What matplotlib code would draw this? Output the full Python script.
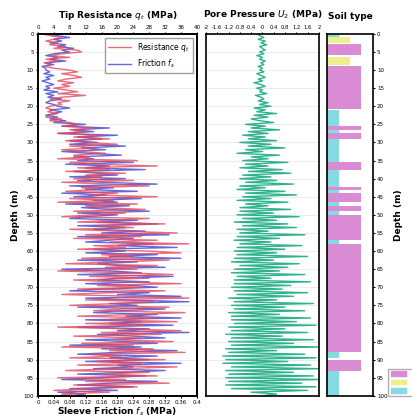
import matplotlib.pyplot as plt
import matplotlib.patches as mpatches
import numpy as np

# depth grid (m), 0.5 m step
depth = np.arange(0, 100.5, 0.5)

# tip resistance qt (MPa)
qt = [1, 3, 6, 4, 2, 5, 3, 7, 4, 10,
      11, 6, 3, 8, 2, 5, 1.5, 3, 2, 4,
      8, 10, 6, 9, 11, 7, 5, 9, 6, 8,
      4, 7, 10, 5, 12, 6, 3, 8, 5, 6,
      3, 2, 4, 2.5, 5, 3, 2, 6, 3, 8,
      10, 6, 14, 8, 12, 5, 16, 9, 18, 7,
      12, 20, 8, 15, 6, 11, 17, 9, 13, 5,
      25, 8, 14, 30, 10, 18, 7, 22, 12, 16,
      9, 24, 6, 18, 28, 11, 15, 7, 20, 13,
      30, 8, 19, 5, 25, 12, 16, 27, 9, 22,
      14, 6, 28, 18, 10, 32, 15, 24, 8, 20,
      35, 12, 26, 9, 30, 18, 38, 14, 22, 10,
      28, 36, 16, 24, 11, 33, 20, 7, 30, 17,
      25, 5, 22, 34, 13, 28, 9, 19, 36, 15,
      26, 10, 32, 18, 6, 24, 38, 12, 29, 20,
      8, 33, 21, 14, 37, 25, 10, 30, 17, 35,
      12, 27, 5, 22, 36, 16, 31, 9, 26, 19,
      34, 11, 24, 6, 29, 18, 37, 13, 21, 8,
      32, 15, 26, 10, 35, 20, 7, 28, 16, 30,
      5, 22, 12, 33, 9, 25, 14, 4, 18, 6, 10]

# sleeve friction fs (MPa)
fs = [0.02, 0.05, 0.08, 0.04, 0.06, 0.03, 0.07, 0.05, 0.09, 0.06,
      0.08, 0.04, 0.02, 0.05, 0.03, 0.07, 0.02, 0.04, 0.01, 0.02,
      0.02, 0.03, 0.015, 0.04, 0.02, 0.03, 0.01, 0.025, 0.04, 0.02,
      0.03, 0.015, 0.05, 0.02, 0.04, 0.025, 0.06, 0.03, 0.02, 0.04,
      0.05, 0.08, 0.03, 0.06, 0.04, 0.02, 0.05, 0.03, 0.07, 0.04,
      0.12, 0.06, 0.18, 0.09, 0.14, 0.05, 0.2, 0.1, 0.16, 0.08,
      0.15, 0.08, 0.22, 0.11, 0.17, 0.06, 0.13, 0.21, 0.09, 0.14,
      0.1, 0.24, 0.07, 0.18, 0.12, 0.27, 0.09, 0.15, 0.2, 0.08,
      0.22, 0.1, 0.16, 0.3, 0.08, 0.19, 0.12, 0.25, 0.06, 0.17,
      0.09, 0.26, 0.14, 0.2, 0.07, 0.23, 0.11, 0.18, 0.28, 0.1,
      0.2, 0.12, 0.08, 0.25, 0.15, 0.3, 0.1, 0.22, 0.14, 0.27,
      0.16, 0.33, 0.1, 0.24, 0.18, 0.12, 0.29, 0.2, 0.35, 0.14,
      0.22, 0.12, 0.3, 0.18, 0.36, 0.1, 0.25, 0.15, 0.2, 0.32,
      0.06, 0.18, 0.26, 0.1, 0.34, 0.2, 0.15, 0.28, 0.12, 0.24,
      0.3, 0.16, 0.08, 0.28, 0.2, 0.36, 0.12, 0.22, 0.38, 0.18,
      0.25, 0.1, 0.32, 0.2, 0.14, 0.3, 0.22, 0.36, 0.12, 0.26,
      0.18, 0.34, 0.1, 0.28, 0.2, 0.38, 0.15, 0.24, 0.32, 0.12,
      0.22, 0.3, 0.08, 0.26, 0.16, 0.35, 0.2, 0.1, 0.3, 0.18,
      0.28, 0.12, 0.36, 0.2, 0.24, 0.14, 0.32, 0.22, 0.1, 0.27,
      0.15, 0.06, 0.3, 0.18, 0.1, 0.24, 0.08, 0.2, 0.05, 0.12, 0.08]

# pore pressure u2 (MPa)
u2 = [-0.2, -0.1, 0.05, -0.15, 0.1, -0.05, 0.15, -0.1, 0.0, 0.1,
      -0.1, 0.05, -0.2, 0.0, -0.1, 0.1, -0.05, 0.05, -0.15, 0.0,
      -0.1, 0.05, -0.2, -0.05, 0.1, -0.15, 0.0, -0.3, -0.05, 0.1,
      -0.2, 0.0, -0.1, 0.15, -0.25, -0.05, 0.05, -0.15, 0.2, -0.1,
      0.3, -0.3, 0.1, -0.2, 0.5, -0.3, 0.2, -0.4, -0.1, 0.4,
      -0.6, 0.1, -0.4, 0.6, -0.5, 0.2, -0.7, 0.1, -0.5, 0.5,
      -0.8, 0.3, -0.5, 0.8, -0.6, 0.0, -0.9, 0.6, -0.4, 0.2,
      -0.7, 0.9, -0.6, 0.2, -0.8, 0.7, -0.5, 1.0, -0.7, 0.3,
      -0.8, 0.5, -0.6, 1.1, -0.8, 0.1, -0.9, 0.8, -0.6, 1.2,
      -0.7, 0.3, -0.9, 0.9, -0.6, 0.2, -0.8, 1.0, -0.8, 0.4,
      -0.9, 1.3, -0.7, 0.5, -1.0, 0.9, -0.7, 1.2, -0.9, 0.2,
      -0.8, 1.5, -0.9, 0.6, -1.0, 0.3, -0.8, 1.4, -0.9, 0.8,
      -1.0, 0.5, -0.9, 1.6, -1.0, 0.4, -1.1, 1.3, -0.8, 0.9,
      -1.0, 0.6, -1.1, 1.5, -0.9, 0.3, -1.0, 1.7, -1.0, 1.0,
      -1.1, 0.7, -1.0, 1.6, -0.9, 1.1, -1.2, 0.5, -1.0, 1.8,
      -1.1, 0.8, -1.0, 1.5, -1.2, 0.6, -1.1, 1.7, -1.1, 1.2,
      -1.0, 1.9, -1.2, 0.8, -1.1, 1.6, -1.3, 0.7, -1.1, 1.8,
      -1.2, 1.1, -1.1, 2.0, -1.3, 0.5, -1.2, 1.5, -1.4, 1.9,
      -1.3, 0.9, -1.4, 1.7, -1.1, 2.0, -1.3, 1.1, -1.2, 1.8,
      -1.3, 2.0, -1.2, 1.4, -1.3, 1.9, -1.1, 1.6, -0.4, 0.5, 0.0]

# soil layers (m) and soil code (1 = cyan, 2 = yellow, 3 = magenta)
soil_top = [0, 1, 2.8, 6.3, 9, 21, 25.4, 26.5, 27.5, 29, 35.4, 37.6, 42.3, 43.2,
            44, 46.5, 47.5, 49, 50, 57, 58, 88, 90, 93]
soil_bot = [1, 2.6, 5.8, 8.5, 20.7, 25.4, 26.5, 27.5, 29, 35.4, 37.6, 42.3, 43.2, 44,
            46.5, 47.5, 49, 50, 57, 58, 88, 89.5, 93, 100]
soil_code = [1, 2, 3, 2, 3, 1, 3, 1, 3, 1, 3, 1, 3, 1, 3, 1, 3, 1, 3, 1, 3, 1, 3, 1]
soil_names = ['Sand', 'Mixtures', 'Clay']
soil_colors = {1: '#86dbe3', 2: '#eeee8c', 3: '#d98bd4'}

red = '#e2475c'
blue = '#4b4fd2'
green = '#2fb38c'

fig = plt.figure(figsize=(4.12, 4.18), dpi=100)
bottom, top = 0.053, 0.919

# panel 1: tip resistance / sleeve friction
ax1 = fig.add_axes([0.092, bottom, 0.386, top - bottom])
ax1t = ax1.twiny()
l_fs, = ax1.plot(fs, depth, color=blue, lw=1.0, alpha=0.85, label='Friction $f_s$')
l_qt, = ax1t.plot(qt, depth, color=red, lw=1.0, alpha=0.8, label='Resistance $q_t$')
ax1.set_xlim(0, 0.4)
ax1t.set_xlim(0, 40)
ax1.set_ylim(100, 0)
ax1.set_yticks(np.arange(0, 101, 5))
ax1.set_xticks(np.arange(0, 0.41, 0.04))
ax1.set_xticklabels(['0'] + ['%.2f' % v for v in np.arange(0.04, 0.41, 0.04)][:-1] + ['0.4'])
ax1t.set_xticks(np.arange(0, 41, 4))
ax1.tick_params(labelsize=4, length=1.5, pad=1.5)
ax1t.tick_params(labelsize=4, length=1.5, pad=1.5)
ax1.grid(axis='y', color='#e4e4e4', lw=0.5)
ax1.set_xlabel('Sleeve Friction $f_s$ (MPa)', fontsize=6.5, fontweight='bold', labelpad=0.5)
ax1.set_ylabel('Depth (m)', fontsize=6.5, fontweight='bold', labelpad=2)
ax1t.set_xlabel('Tip Resistance $q_t$ (MPa)', fontsize=6.5, fontweight='bold', labelpad=5)
ax1t.legend(handles=[l_qt, l_fs], loc='upper right', fontsize=5.5,
            frameon=True, fancybox=False, edgecolor='#888888', handlelength=3)

# panel 2: pore pressure
ax2 = fig.add_axes([0.5, bottom, 0.274, top - bottom])
ax2.plot(u2, depth, color=green, lw=1.0)
ax2.set_xlim(-2, 2)
ax2.set_ylim(100, 0)
ax2.set_yticks(np.arange(0, 101, 5))
ax2.tick_params(left=False, labelleft=False)
ax2.xaxis.tick_top()
ax2.xaxis.set_label_position('top')
xt = np.round(np.arange(-2, 2.01, 0.4), 1)
ax2.set_xticks(xt)
ax2.set_xticklabels(['%g' % v for v in xt])
ax2.tick_params(labelsize=3.8, length=1.5, pad=1.5)
ax2.grid(axis='y', color='#e4e4e4', lw=0.5)
ax2.set_xlabel('Pore Pressure $U_2$ (MPa)', fontsize=6.5, fontweight='bold', labelpad=5)

# panel 3: soil type
ax3 = fig.add_axes([0.794, bottom, 0.111, top - bottom])
for t, b, c in zip(soil_top, soil_bot, soil_code):
    ax3.barh((t + b) / 2, c, height=b - t, color=soil_colors[c], lw=0)
ax3.set_xlim(0, 4)
ax3.set_ylim(100, 0)
ax3.set_xticks([])
ax3.set_yticks(np.arange(0, 101, 5))
ax3.yaxis.tick_right()
ax3.yaxis.set_label_position('right')
ax3.tick_params(labelsize=4, length=1.5, pad=1.5)
ax3.set_ylabel('Depth (m)', fontsize=6.5, fontweight='bold', labelpad=5)
ax3.xaxis.set_label_position('top')
ax3.set_xlabel('Soil type', fontsize=6.5, fontweight='bold', labelpad=11)

for ax in (ax1, ax1t, ax2, ax3):
    for s in ax.spines.values():
        s.set_linewidth(1.2)

handles = [mpatches.Patch(color=soil_colors[k]) for k in (3, 2, 1)]
fig.legend(handles, [soil_names[0], soil_names[1], soil_names[2]],
           loc='lower left', bbox_to_anchor=(0.935, 0.045), fontsize=4.5,
           frameon=True, fancybox=False, edgecolor='#999999', handlelength=2.5)

fig.savefig('out.png', dpi=100)
